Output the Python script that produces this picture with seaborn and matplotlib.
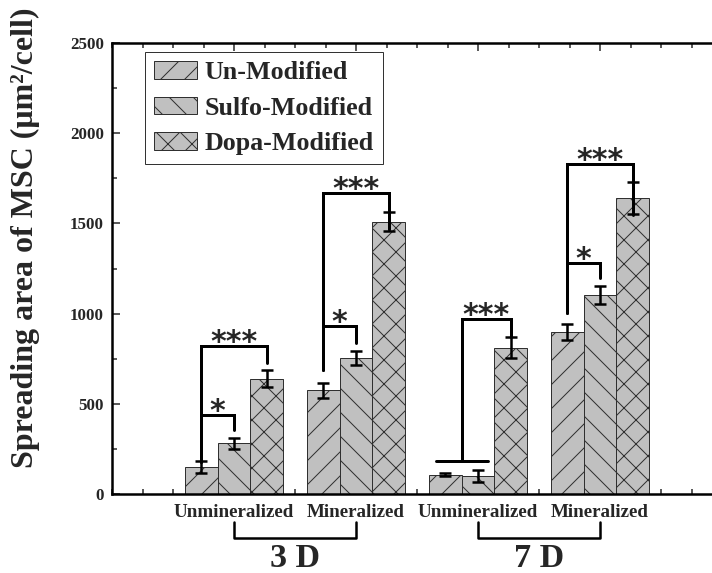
import matplotlib
matplotlib.use('Agg')
import matplotlib.pyplot as plt
from matplotlib.ticker import MultipleLocator
from matplotlib.patches import Patch
import seaborn as sns
import pandas as pd
import numpy as np

# values
groups = ['3D Unmineralized', '3D Mineralized', '7D Unmineralized', '7D Mineralized']
group_labels = ['Unmineralized', 'Mineralized', 'Unmineralized', 'Mineralized']
treatments = ['Un-Modified', 'Sulfo-Modified', 'Dopa-Modified']
un_mean = [150, 575, 108, 898]
un_err = [35, 42, 8, 44]
sulfo_mean = [280, 755, 98, 1105]
sulfo_err = [28, 39, 33, 50]
dopa_mean = [640, 1510, 810, 1640]
dopa_err = [47, 52, 58, 90]
hatches = ['/', '\\', 'x']

# significance brackets: (group, bar a, bar b, left foot, right foot, top, label)
sig_brackets = [
    (0, 0, 1, 177, 355, 438, '*'),
    (0, 0, 2, 177, 726, 820, '***'),
    (1, 0, 1, 687, 837, 931, '*'),
    (1, 0, 2, 687, 1470, 1668, '***'),
    (3, 0, 1, 1003, 1197, 1280, '*'),
    (3, 0, 2, 1003, 1547, 1829, '***'),
]
# 7 D unmineralized: (un+sulfo) vs dopa
sig_t = (2, 183, 870, 970, '***')

days = ['3 D', '7 D']

df = pd.DataFrame({
    'group': groups * 3,
    'treatment': np.repeat(treatments, 4),
    'value': un_mean + sulfo_mean + dopa_mean,
})
errs = [un_err, sulfo_err, dopa_err]

sns.set_style('ticks')
plt.rcParams['font.family'] = ['Liberation Serif', 'DejaVu Serif']
plt.rcParams['font.weight'] = 'bold'
plt.rcParams['hatch.linewidth'] = 1.0

fig = plt.figure(figsize=(712 / 72, 573 / 72), dpi=72)
ax = fig.add_axes([112 / 712, 79 / 573, 610 / 712, 451 / 573])

sns.barplot(data=df, x='group', y='value', hue='treatment',
            order=groups, hue_order=treatments, errorbar=None, width=0.8,
            ax=ax, legend=False)

bar_conts = list(ax.containers)
centers = []
for k, cont in enumerate(bar_conts):
    xs = []
    for bar in cont:
        bar.set_facecolor('#c0c0c0')
        bar.set_edgecolor('#303030')
        bar.set_linewidth(1.0)
        bar.set_hatch(hatches[k])
        xs.append(bar.get_x() + bar.get_width() / 2)
    heights = [b.get_height() for b in cont]
    ax.errorbar(xs, heights, yerr=errs[k], fmt='none', ecolor='black',
                elinewidth=2.5, capsize=6, capthick=2.5, zorder=5)
    centers.append(xs)

lw = 3
star_kw = dict(xytext=(0, -5), textcoords='offset points', ha='center', va='baseline',
               fontsize=30, family='DejaVu Sans', fontweight='bold')
for g, a, b, lf, rf, top, lab in sig_brackets:
    xa, xb = centers[a][g], centers[b][g]
    ax.plot([xa, xa, xb, xb], [lf, top, top, rf], color='black', lw=lw,
            solid_joinstyle='miter', zorder=6)
    ax.annotate(lab, ((xa + xb) / 2, top), **star_kw)

g, base, rf, top, lab = sig_t
xm = (centers[0][g] + centers[1][g]) / 2
half = (centers[1][g] - centers[0][g]) * 0.8
xd = centers[2][g]
ax.plot([xm - half, xm + half], [base, base], color='black', lw=lw, zorder=6)
ax.plot([xm, xm, xd, xd], [base, top, top, rf], color='black', lw=lw,
        solid_joinstyle='miter', zorder=6)
ax.annotate(lab, ((xm + xd) / 2, top), **star_kw)

ax.set_xlim(-1, 4)
ax.set_ylim(0, 2500)
ax.yaxis.set_major_locator(MultipleLocator(500))
ax.yaxis.set_minor_locator(MultipleLocator(250))
ax.xaxis.set_minor_locator(MultipleLocator(0.25))
ax.set_xticks(range(len(groups)))
ax.set_xticklabels(group_labels, fontsize=19, fontweight='bold')
ax.tick_params(axis='both', which='both', direction='in', top=True, right=True, width=1.5)
ax.tick_params(axis='both', which='major', length=8)
ax.tick_params(axis='both', which='minor', length=5)
ax.tick_params(axis='x', pad=10)
ax.tick_params(axis='y', labelsize=17, pad=8)
for t in ax.get_yticklabels():
    t.set_fontweight('bold')
for side in ['left', 'bottom', 'top', 'right']:
    ax.spines[side].set_linewidth(2.5)
    ax.spines[side].set_color('black')

ax.set_xlabel('')
ax.set_ylabel('Spreading area of MSC (\u03bcm\u00b2/cell)', fontsize=32, fontweight='bold')
ax.yaxis.set_label_coords(-0.118, 0.569)

# day brackets under the axis
trans = ax.get_xaxis_transform()
for i, day in enumerate(days):
    x1, x2 = 2 * i, 2 * i + 1
    ax.plot([x1, x1, x2, x2], [-0.062, -0.0976, -0.0976, -0.062], color='black', lw=2.5,
            transform=trans, clip_on=False)
    ax.text((x1 + x2) / 2, -0.142, day, transform=trans, ha='center', va='center',
            fontsize=34, fontweight='bold')

handles = [Patch(facecolor='#c0c0c0', edgecolor='#303030', hatch=h, label=t)
           for h, t in zip(hatches, treatments)]
leg = ax.legend(handles=handles, loc='upper left', bbox_to_anchor=(0.054, 0.98),
                borderaxespad=0, frameon=True, fancybox=False,
                handlelength=1.65, handleheight=0.65, handletextpad=0.3,
                labelspacing=0.48, borderpad=0.35,
                prop={'weight': 'bold', 'size': 26})
leg.get_frame().set_edgecolor('black')
leg.get_frame().set_linewidth(1.0)

fig.savefig('out.png', dpi=72)
